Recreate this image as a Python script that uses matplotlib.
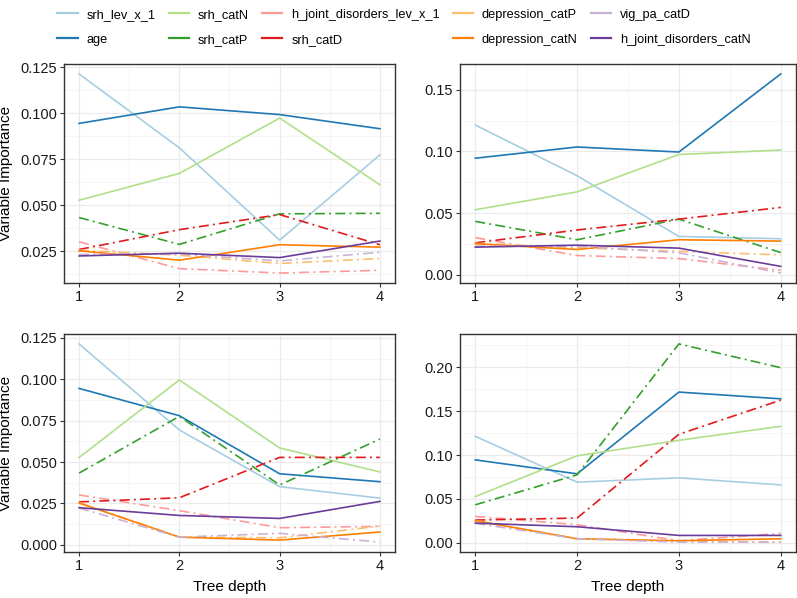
import numpy as np
import matplotlib.pyplot as plt
from matplotlib.lines import Line2D

plt.rcParams['font.family'] = ['Liberation Sans', 'DejaVu Sans']

depth = [1, 2, 3, 4]

names = ['srh_lev_x_1', 'age', 'srh_catN', 'srh_catP', 'h_joint_disorders_lev_x_1',
         'srh_catD', 'depression_catP', 'depression_catN', 'vig_pa_catD',
         'h_joint_disorders_catN']
colors = ['#a6cee3', '#1f78b4', '#b2df8a', '#33a02c', '#fb9a99',
          '#e31a1c', '#fdbf6f', '#ff7f00', '#cab2d6', '#6a3d9a']
dashed = ['srh_catP', 'h_joint_disorders_lev_x_1', 'srh_catD', 'depression_catP', 'vig_pa_catD']

# panel 1 (top left)
p1 = {
    'srh_lev_x_1': [0.1214, 0.0812, 0.0310, 0.0774],
    'age': [0.0945, 0.1035, 0.0993, 0.0916],
    'srh_catN': [0.0527, 0.0673, 0.0974, 0.0611],
    'srh_catP': [0.0433, 0.0287, 0.0453, 0.0456],
    'h_joint_disorders_lev_x_1': [0.0301, 0.0155, 0.0131, 0.0146],
    'srh_catD': [0.0259, 0.0367, 0.0449, 0.0285],
    'depression_catP': [0.0255, 0.0228, 0.0183, 0.0210],
    'depression_catN': [0.0252, 0.0201, 0.0285, 0.0272],
    'vig_pa_catD': [0.0232, 0.0235, 0.0197, 0.0244],
    'h_joint_disorders_catN': [0.0224, 0.0239, 0.0215, 0.0305],
}
# panel 2 (top right)
p2 = {
    'srh_lev_x_1': [0.1214, 0.0803, 0.0311, 0.0292],
    'age': [0.0945, 0.1036, 0.0995, 0.1628],
    'srh_catN': [0.0527, 0.0672, 0.0975, 0.1011],
    'srh_catP': [0.0433, 0.0284, 0.0451, 0.0180],
    'h_joint_disorders_lev_x_1': [0.0301, 0.0156, 0.0131, 0.0036],
    'srh_catD': [0.0259, 0.0363, 0.0451, 0.0546],
    'depression_catP': [0.0255, 0.0219, 0.0190, 0.0161],
    'depression_catN': [0.0252, 0.0205, 0.0284, 0.0273],
    'vig_pa_catD': [0.0232, 0.0232, 0.0178, 0.0014],
    'h_joint_disorders_catN': [0.0224, 0.0240, 0.0216, 0.0068],
}
# panel 3 (bottom left)
p3 = {
    'srh_lev_x_1': [0.1214, 0.0694, 0.0351, 0.0282],
    'age': [0.0945, 0.0780, 0.0429, 0.0381],
    'srh_catN': [0.0527, 0.0996, 0.0585, 0.0440],
    'srh_catP': [0.0433, 0.0776, 0.0361, 0.0639],
    'h_joint_disorders_lev_x_1': [0.0301, 0.0206, 0.0103, 0.0111],
    'srh_catD': [0.0259, 0.0284, 0.0528, 0.0528],
    'depression_catP': [0.0255, 0.0046, 0.0042, 0.0113],
    'depression_catN': [0.0252, 0.0046, 0.0028, 0.0077],
    'vig_pa_catD': [0.0222, 0.0046, 0.0069, 0.0016],
    'h_joint_disorders_catN': [0.0224, 0.0177, 0.0159, 0.0262],
}
# panel 4 (bottom right)
p4 = {
    'srh_lev_x_1': [0.1214, 0.0691, 0.0740, 0.0660],
    'age': [0.0945, 0.0786, 0.1718, 0.1641],
    'srh_catN': [0.0527, 0.0992, 0.1168, 0.1328],
    'srh_catP': [0.0433, 0.0775, 0.2267, 0.1996],
    'h_joint_disorders_lev_x_1': [0.0301, 0.0206, 0.0023, 0.0107],
    'srh_catD': [0.0259, 0.0282, 0.1237, 0.1626],
    'depression_catP': [0.0255, 0.0046, 0.0015, 0.0008],
    'depression_catN': [0.0252, 0.0046, 0.0023, 0.0046],
    'vig_pa_catD': [0.0222, 0.0046, 0.0008, 0.0008],
    'h_joint_disorders_catN': [0.0224, 0.0183, 0.0084, 0.0084],
}

yticks = [
    [0.025, 0.05, 0.075, 0.1, 0.125],
    [0.0, 0.05, 0.1, 0.15],
    [0.0, 0.025, 0.05, 0.075, 0.1, 0.125],
    [0.0, 0.05, 0.1, 0.15, 0.2],
]
yfmt = ['%.3f', '%.2f', '%.3f', '%.2f']

W, H = 797, 598
fig = plt.figure(figsize=(W / 100, H / 100), dpi=100)

boxes = [(64, 64, 395, 283), (460, 64, 796, 283),
         (64, 334, 395, 552), (460, 334, 796, 552)]
panels = [p1, p2, p3, p4]

for i, (data, box) in enumerate(zip(panels, boxes)):
    l, t, r, b = box
    ax = fig.add_axes([l / W, 1 - b / H, (r - l) / W, (b - t) / H])
    for name, c in zip(names, colors):
        ls = (0, (6, 2.5, 1.2, 2.5)) if name in dashed else '-'
        ax.plot(depth, data[name], color=c, lw=1.2, ls=ls, zorder=3)
    vals = np.concatenate([data[n] for n in names])
    lo, hi = vals.min(), vals.max()
    pad = (hi - lo) * 0.05
    ax.set_xlim(1 - 0.15, 4 + 0.15)
    ax.set_xticks(depth)
    ax.set_xticks([1.5, 2.5, 3.5], minor=True)
    yt = yticks[i]
    ax.set_yticks(yt)
    step = yt[1] - yt[0]
    ax.set_yticks([v + step / 2 for v in [yt[0] - step] + yt], minor=True)
    ax.set_ylim(lo - pad, hi + pad)
    ax.set_yticklabels([yfmt[i] % v for v in yt])
    ax.grid(True, which='major', color='#ebebeb', lw=0.9, zorder=0)
    ax.grid(True, which='minor', color='#f2f2f2', lw=0.5, zorder=0)
    ax.tick_params(which='minor', length=0)
    ax.tick_params(which='major', length=3, width=0.8, color='#333333',
                   labelsize=10.5, labelcolor='#1a1a1a', pad=2)
    for s in ax.spines.values():
        s.set_color('#333333')
        s.set_linewidth(1.0)
    if i in (0, 2):
        ax.set_ylabel('Variable Importance', fontsize=11, labelpad=5)
    if i in (2, 3):
        ax.set_xlabel('Tree depth', fontsize=11, labelpad=5)

handles = [Line2D([0], [0], color=c, lw=1.6) for c in colors]
fig.legend(handles, names, ncol=5, loc='upper center', bbox_to_anchor=(404 / W, 1.0),
           frameon=False, fontsize=9.2, handlelength=1.6, columnspacing=1.0,
           handletextpad=0.7, labelspacing=1.0, borderaxespad=0.3)

fig.savefig('out.png', dpi=100)
